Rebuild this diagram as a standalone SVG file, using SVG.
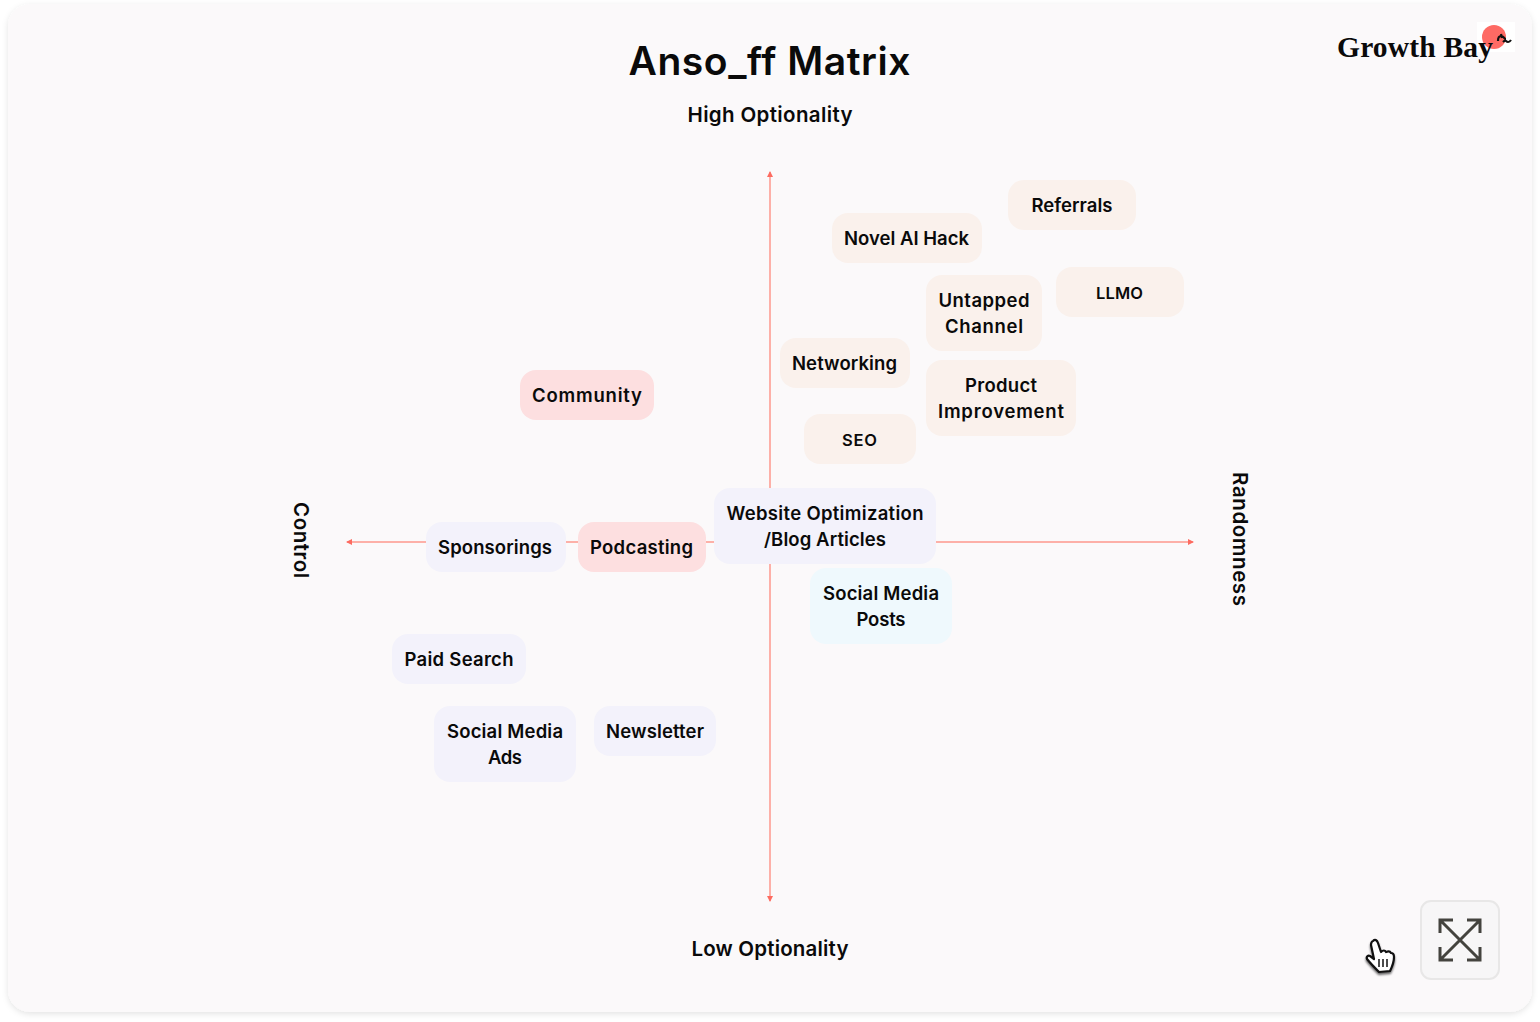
<svg xmlns="http://www.w3.org/2000/svg" width="1540" height="1022" viewBox="0 0 1540 1022">
<style>
text{font-family:"Inter","Liberation Sans",sans-serif;fill:#0a0a0a}
.l{font-size:18.5px;font-weight:600;text-anchor:middle}
.s{font-size:16.5px}
.a{font-size:20.5px;font-weight:600;text-anchor:middle}
.ax{stroke:#fdb0a8;stroke-width:2;fill:none}
.o{fill:#faf1ec}.p{fill:#f3f2fb}.r{fill:#fddfe0}.b{fill:#eff9fd}
</style>
<defs>
<filter id="sh" x="-3%" y="-3%" width="106%" height="106%"><feDropShadow dx="0" dy="2" stdDeviation="3" flood-color="#000" flood-opacity="0.11"/></filter>
<marker id="ah" markerUnits="userSpaceOnUse" markerWidth="6" markerHeight="6" refX="5" refY="3" orient="auto"><path d="M0 0L6 3L0 6Z" fill="#fd6b60"/></marker>
</defs>
<rect width="1540" height="1022" fill="#fff"/>
<rect id="card" x="8" y="4" width="1524" height="1008" rx="22" fill="#fbf9fa" filter="url(#sh)"/>
<text x="769.5" y="75" text-anchor="middle" font-size="39" font-weight="600" textLength="282" lengthAdjust="spacing">Anso_ff Matrix</text>
<text class="a" x="770" y="122" textLength="165" lengthAdjust="spacing">High Optionality</text>
<text class="a" x="770" y="956" textLength="157" lengthAdjust="spacing">Low Optionality</text>
<text class="a" transform="translate(294 540) rotate(90)" textLength="76" lengthAdjust="spacing">Control</text>
<text class="a" transform="translate(1233 539) rotate(90)" textLength="134" lengthAdjust="spacing">Randomness</text>
<g id="connectors">
<line class="ax" x1="770" y1="542" x2="770" y2="172" marker-end="url(#ah)"/>
<line class="ax" x1="770" y1="542" x2="770" y2="901" marker-end="url(#ah)"/>
<line class="ax" x1="770" y1="542" x2="347" y2="542" marker-end="url(#ah)"/>
<line class="ax" x1="770" y1="542" x2="1193" y2="542" marker-end="url(#ah)"/>
</g>
<g id="referrals"><rect class="o" x="1008" y="180" width="128" height="50" rx="16"/><text class="l" x="1072" y="212" textLength="81" lengthAdjust="spacing">Referrals</text></g>
<g id="novel-ai-hack"><rect class="o" x="832" y="213" width="150" height="50" rx="16"/><text class="l" x="906.5" y="245" textLength="125" lengthAdjust="spacing">Novel AI Hack</text></g>
<g id="llmo"><rect class="o" x="1056" y="267" width="128" height="50" rx="16"/><text class="l s" x="1119.5" y="299" textLength="47" lengthAdjust="spacing">LLMO</text></g>
<g id="untapped-channel"><rect class="o" x="926" y="275" width="116" height="76" rx="16"/><text class="l" x="984" y="307" textLength="91" lengthAdjust="spacing">Untapped</text><text class="l" x="984" y="333" textLength="78" lengthAdjust="spacing">Channel</text></g>
<g id="networking"><rect class="o" x="780" y="338" width="130" height="50" rx="16"/><text class="l" x="844.5" y="370" textLength="105" lengthAdjust="spacing">Networking</text></g>
<g id="product-improvement"><rect class="o" x="926" y="360" width="150" height="76" rx="16"/><text class="l" x="1001" y="392" textLength="72" lengthAdjust="spacing">Product</text><text class="l" x="1001" y="418" textLength="126" lengthAdjust="spacing">Improvement</text></g>
<g id="community"><rect class="r" x="520" y="370" width="134" height="50" rx="16"/><text class="l" x="587" y="402" textLength="110" lengthAdjust="spacing">Community</text></g>
<g id="seo"><rect class="o" x="804" y="414" width="112" height="50" rx="16"/><text class="l s" x="859.5" y="446" textLength="35" lengthAdjust="spacing">SEO</text></g>
<g id="website-optimization"><rect class="p" x="714" y="488" width="222" height="76" rx="16"/><text class="l" x="825" y="520" textLength="197" lengthAdjust="spacing">Website Optimization</text><text class="l" x="825" y="546" textLength="122" lengthAdjust="spacing">/Blog Articles</text></g>
<g id="sponsorings"><rect class="p" x="426" y="522" width="140" height="50" rx="16"/><text class="l" x="495" y="554" textLength="114" lengthAdjust="spacing">Sponsorings</text></g>
<g id="podcasting"><rect class="r" x="578" y="522" width="128" height="50" rx="16"/><text class="l" x="641.5" y="554" textLength="103" lengthAdjust="spacing">Podcasting</text></g>
<g id="social-media-posts"><rect class="b" x="810" y="568" width="142" height="76" rx="16"/><text class="l" x="881" y="600" textLength="116" lengthAdjust="spacing">Social Media</text><text class="l" x="881" y="626" textLength="49" lengthAdjust="spacing">Posts</text></g>
<g id="paid-search"><rect class="p" x="392" y="634" width="134" height="50" rx="16"/><text class="l" x="459" y="666" textLength="109" lengthAdjust="spacing">Paid Search</text></g>
<g id="social-media-ads"><rect class="p" x="434" y="706" width="142" height="76" rx="16"/><text class="l" x="505" y="738" textLength="116" lengthAdjust="spacing">Social Media</text><text class="l" x="505" y="764" textLength="34" lengthAdjust="spacing">Ads</text></g>
<g id="newsletter"><rect class="p" x="594" y="706" width="122" height="50" rx="16"/><text class="l" x="655" y="738" textLength="98" lengthAdjust="spacing">Newsletter</text></g>
<g id="logo">
<rect x="1477" y="22" width="38" height="30" fill="#fff"/>
<circle cx="1494" cy="37" r="12" fill="#fe6a64"/>
<text x="1337" y="57" font-size="29.5" font-weight="700" style="font-family:'Liberation Serif',serif" textLength="156" lengthAdjust="spacing">Growth Bay</text>
<path d="M1498 41c0-3 1-5 3-5c3 0 3 3 5 3M1501 34l1 4M1503 42c1-1 2-2 3-1c1 1 3 2 5-1" fill="none" stroke="#111" stroke-width="2.2"/>
</g>
<g id="expand">
<rect x="1421" y="901" width="78" height="78" rx="10" fill="#f7f6f7" stroke="#e8e7e7" stroke-width="2"/>
<path d="M1440 933v-13h13M1467 920h13v13M1480 947v13h-13M1453 960h-13v-13M1441 921l38 38M1479 921l-38 38" fill="none" stroke="#44433e" stroke-width="3"/>
</g>
<g id="cursor" transform="translate(-2 0)">
<path d="M1375 941c2-2 4-1 5 2l3 9c2-2 4-2 5 0c2-1 4-1 5 1c2 0 3 1 3 4c0 6-2 10-4 14l-11 1c-3-3-8-8-12-13c-1-2 1-4 3-3l4 3l-3-14c0-2 1-4 2-4z" fill="#fff" stroke="#111" stroke-width="2.2" stroke-linejoin="round" style="filter:drop-shadow(0 2px 1.2px rgba(0,0,0,.6))"/>
<path d="M1381 959v8M1385 959v8M1389 959v8" stroke="#111" stroke-width="1.5"/>
</g>
</svg>
